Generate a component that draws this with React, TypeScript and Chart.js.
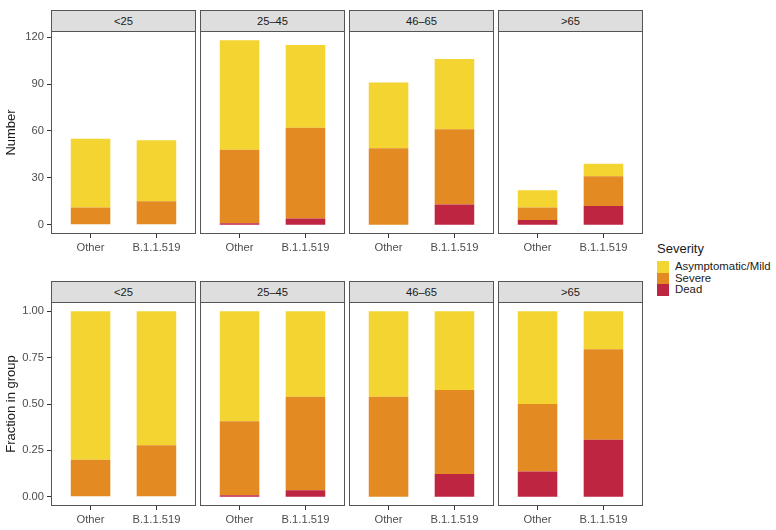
import React, { useEffect, useRef } from "react";
import { Chart, registerables } from "chart.js";

Chart.register(...registerables);

// ---------- data ----------
const ageGroups = ["<25", "25–45", "46–65", ">65"];
const variants = ["Other", "B.1.1.519"];
const severityLabels = ["Asymptomatic/Mild", "Severe", "Dead"];

// counts per age group (index matches ageGroups)
const mildOther = [44, 70, 42, 11];
const mildB11519 = [39, 53, 45, 8];
const severeOther = [11, 47, 49, 8];
const severeB11519 = [15, 58, 48, 19];
const deadOther = [0, 1, 0, 3];
const deadB11519 = [0, 4, 13, 12];

const countTicks = [0, 30, 60, 90, 120];
const fractionTicks = [0, 0.25, 0.5, 0.75, 1];

const severityColors = ["#F3D431", "#E38B22", "#BE2540"]; // mild, severe, dead

// ---------- layout ----------
const FONT = "'Liberation Sans', Arial, Helvetica, sans-serif";
const panelLefts = [51, 200, 349, 498];
const panelWidth = 145;
const rows = [
  { stripTop: 10, panelTop: 31, panelHeight: 203, title: "Number" },
  { stripTop: 281, panelTop: 302, panelHeight: 204, title: "Fraction in group" },
];
const yAxisWidth = 51;
const xAxisHeight = 22;

const borderPlugin = {
  id: "panelBorder",
  afterDraw(chart: any) {
    const { ctx, chartArea } = chart;
    const { left, top, right, bottom } = chartArea;
    ctx.save();
    ctx.strokeStyle = "#555555";
    ctx.lineWidth = 1;
    ctx.strokeRect(left + 0.5, top + 0.5, right - left - 1, bottom - top - 1);
    ctx.restore();
  },
};

function seriesFor(row: number, g: number) {
  const other = [deadOther[g], severeOther[g], mildOther[g]];
  const b = [deadB11519[g], severeB11519[g], mildB11519[g]];
  if (row === 0) return { other, b };
  const tO = other.reduce((a, v) => a + v, 0);
  const tB = b.reduce((a, v) => a + v, 0);
  return { other: other.map((v) => v / tO), b: b.map((v) => v / tB) };
}

function yRange(row: number) {
  if (row === 1) return { min: -0.05, max: 1.05 };
  const totals = ageGroups.flatMap((_, g) => [
    mildOther[g] + severeOther[g] + deadOther[g],
    mildB11519[g] + severeB11519[g] + deadB11519[g],
  ]);
  const mx = Math.max(...totals);
  return { min: -0.05 * mx, max: mx * 1.05 };
}

function Panel({ row, g }: { row: number; g: number }) {
  const ref = useRef<HTMLCanvasElement | null>(null);
  const first = g === 0;
  const r = rows[row];
  const left = first ? panelLefts[g] - yAxisWidth : panelLefts[g];
  const width = first ? panelWidth + yAxisWidth : panelWidth;
  const height = r.panelHeight + xAxisHeight;

  useEffect(() => {
    if (!ref.current) return;
    const { other, b } = seriesFor(row, g);
    // stacking bottom -> top: Dead, Severe, Mild
    const order = [2, 1, 0]; // indices into severityLabels
    const datasets = order.map((sIdx, k) => ({
      label: severityLabels[sIdx],
      data: [
        { x: 0, y: other[k] },
        { x: 1, y: b[k] },
      ],
      backgroundColor: severityColors[sIdx],
      borderWidth: 0,
      categoryPercentage: 1,
      barPercentage: 0.6,
    }));
    const yr = yRange(row);
    const yTickVals = row === 0 ? countTicks : fractionTicks;
    const chart = new Chart(ref.current, {
      type: "bar",
      data: { datasets } as any,
      options: {
        animation: false,
        responsive: false,
        maintainAspectRatio: false,
        layout: { padding: 0, autoPadding: false },
        plugins: { legend: { display: false }, tooltip: { enabled: false } },
        scales: {
          x: {
            type: "linear",
            stacked: true,
            offset: false,
            min: -0.6,
            max: 1.6,
            afterBuildTicks: (s: any) => {
              s.ticks = [{ value: 0 }, { value: 1 }];
            },
            afterFit: (s: any) => {
              s.height = xAxisHeight;
              s.paddingLeft = 0;
              s.paddingRight = 0;
              s.paddingTop = 0;
              s.paddingBottom = 0;
            },
            ticks: {
              callback: (v: any) => variants[Number(v)] ?? "",
              font: { family: FONT, size: 11.2 },
              color: "#4D4D4D",
              padding: 3,
              maxRotation: 0,
              autoSkip: false,
            },
            grid: {
              offset: false,
              drawOnChartArea: false,
              drawTicks: true,
              tickLength: 4,
              color: "#333333",
            },
            border: { display: false },
          },
          y: {
            type: "linear",
            stacked: true,
            display: first,
            min: yr.min,
            max: yr.max,
            afterBuildTicks: (s: any) => {
              s.ticks = yTickVals.map((v) => ({ value: v }));
            },
            afterFit: (s: any) => {
              s.width = first ? yAxisWidth : 0;
              s.paddingLeft = 0;
              s.paddingRight = 0;
              s.paddingTop = 0;
              s.paddingBottom = 0;
            },
            ticks: {
              callback: (v: any) =>
                row === 0 ? String(v) : Number(v).toFixed(2),
              font: { family: FONT, size: 11.2 },
              color: "#4D4D4D",
              padding: 3,
            },
            grid: {
              drawOnChartArea: false,
              drawTicks: true,
              tickLength: 4,
              color: "#333333",
            },
            border: { display: false },
            title: {
              display: true,
              text: r.title,
              font: { family: FONT, size: 13 },
              color: "#1A1A1A",
              padding: { top: 4, bottom: 0 },
            },
          },
        },
      } as any,
      plugins: [borderPlugin],
    });
    return () => chart.destroy();
  }, [row, g]);

  return (
    <>
      <div
        style={{
          position: "absolute",
          left: panelLefts[g],
          top: r.stripTop,
          width: panelWidth,
          height: r.panelTop - r.stripTop + 1,
          boxSizing: "border-box",
          border: "1px solid #555555",
          background: "#DEDEDE",
          color: "#1A1A1A",
          fontFamily: FONT,
          fontSize: 11.2,
          display: "flex",
          alignItems: "center",
          justifyContent: "center",
        }}
      >
        {ageGroups[g]}
      </div>
      <canvas
        ref={ref}
        width={width}
        height={height}
        style={{ position: "absolute", left, top: r.panelTop, width, height }}
      />
    </>
  );
}

function Legend() {
  const keyTop = 261;
  const keyH = 11.7;
  return (
    <div style={{ fontFamily: FONT }}>
      <div
        style={{
          position: "absolute",
          left: 657,
          top: 241,
          fontSize: 13,
          color: "#1A1A1A",
          lineHeight: "16px",
        }}
      >
        Severity
      </div>
      {severityLabels.map((lab, i) => (
        <React.Fragment key={lab}>
          <div
            style={{
              position: "absolute",
              left: 657,
              top: keyTop + i * keyH,
              width: 11.7,
              height: keyH,
              background: severityColors[i],
            }}
          />
          <div
            style={{
              position: "absolute",
              left: 675,
              top: keyTop + i * keyH,
              height: keyH,
              lineHeight: keyH + "px",
              fontSize: 11.4,
              color: "#1A1A1A",
              whiteSpace: "nowrap",
            }}
          >
            {lab}
          </div>
        </React.Fragment>
      ))}
    </div>
  );
}

export default function App() {
  return (
    <div
      style={{
        position: "absolute",
        left: 0,
        top: 0,
        width: 776,
        height: 530,
        background: "#FFFFFF",
        overflow: "hidden",
      }}
    >
      {[0, 1].map((row) =>
        ageGroups.map((_, g) => <Panel key={row + "-" + g} row={row} g={g} />)
      )}
      <Legend />
    </div>
  );
}
